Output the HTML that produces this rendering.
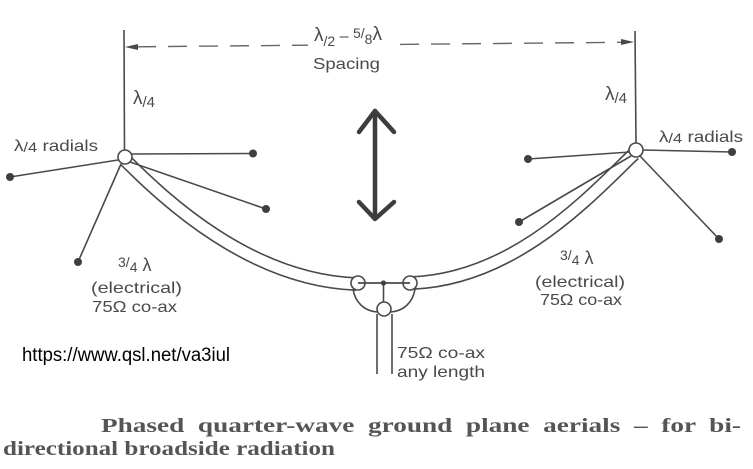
<!DOCTYPE html>
<html>
<head>
<meta charset="utf-8">
<style>
  html,body{margin:0;padding:0;background:#fff;}
  svg{display:block;}
  .lbl{font-family:"Liberation Sans",sans-serif;fill:#4a4a4a;}
</style>
</head>
<body>
<svg width="753" height="469" viewBox="0 0 753 469" xmlns="http://www.w3.org/2000/svg">
  <rect width="753" height="469" fill="#fff"/>

  <!-- masts -->
  <line x1="124" y1="30" x2="124.5" y2="150" stroke="#4a4a4a" stroke-width="1.6"/>
  <line x1="635" y1="31" x2="636" y2="143" stroke="#4a4a4a" stroke-width="1.6"/>

  <!-- dashed spacing line -->
  <line x1="137" y1="46.8" x2="308" y2="45.2" stroke="#666" stroke-width="1.4" stroke-dasharray="19 12"/>
  <line x1="400" y1="44.4" x2="622" y2="42.3" stroke="#666" stroke-width="1.4" stroke-dasharray="19 12"/>
  <polygon points="125,47 138,44 138,50" fill="#4a4a4a"/>
  <polygon points="634,42 621,39 621,45" fill="#4a4a4a"/>

  <!-- spacing label -->
  <text class="lbl" x="314" y="41" font-size="19">λ<tspan font-size="14" dy="5">/2</tspan><tspan dy="-5" font-size="16"> – </tspan><tspan font-size="14" dy="-3">5</tspan><tspan font-size="14">/</tspan><tspan font-size="14" dy="6">8</tspan><tspan dy="-4" font-size="19">λ</tspan></text>
  <text class="lbl" x="313" y="69" font-size="16" textLength="67" lengthAdjust="spacingAndGlyphs">Spacing</text>

  <!-- lambda/4 labels -->
  <text class="lbl" x="133" y="104" font-size="19">λ<tspan font-size="15" dy="3">/4</tspan></text>
  <text class="lbl" x="605" y="100" font-size="19">λ<tspan font-size="15" dy="3">/4</tspan></text>

  <text class="lbl" x="14" y="151" font-size="16" textLength="84" lengthAdjust="spacingAndGlyphs">λ<tspan font-size="14" dy="1">/4</tspan><tspan dy="-1"> radials</tspan></text>
  <text class="lbl" x="659" y="142" font-size="16" textLength="84" lengthAdjust="spacingAndGlyphs">λ<tspan font-size="14" dy="1">/4</tspan><tspan dy="-1"> radials</tspan></text>

  <!-- coax tubes -->
  <g fill="none">
    <path d="M125,160 C165,200 250,280 356,284" stroke="#4a4a4a" stroke-width="14"/>
    <path d="M125,160 C165,200 250,280 356,284" stroke="#fff" stroke-width="10.8"/>
    <path d="M634,154 C592,194 516,279 412,283" stroke="#4a4a4a" stroke-width="14"/>
    <path d="M634,154 C592,194 516,279 412,283" stroke="#fff" stroke-width="10.8"/>
  </g>

  <!-- radials -->
  <g stroke="#4a4a4a" stroke-width="1.6">
    <line x1="118" y1="160" x2="10" y2="177"/>
    <line x1="131" y1="154" x2="253" y2="153.5"/>
    <line x1="130" y1="162" x2="266" y2="209"/>
    <line x1="121" y1="164" x2="78" y2="262"/>
    <line x1="630" y1="152" x2="528" y2="159"/>
    <line x1="642" y1="150" x2="732" y2="152"/>
    <line x1="631" y1="156" x2="519" y2="222"/>
    <line x1="640" y1="156" x2="719" y2="239"/>
  </g>
  <g fill="#3f3f3f">
    <circle cx="10" cy="177" r="4"/>
    <circle cx="253" cy="153.5" r="4"/>
    <circle cx="266" cy="209" r="4"/>
    <circle cx="78" cy="262" r="4"/>
    <circle cx="528" cy="159" r="4"/>
    <circle cx="732" cy="152" r="4"/>
    <circle cx="519" cy="222" r="4"/>
    <circle cx="719" cy="239" r="4"/>
  </g>

  <!-- feed circles at masts -->
  <circle cx="125" cy="157" r="7" fill="#fff" stroke="#4a4a4a" stroke-width="1.6"/>
  <circle cx="636" cy="150" r="7" fill="#fff" stroke="#4a4a4a" stroke-width="1.6"/>

  <!-- central junction -->
  <g fill="none" stroke="#4a4a4a" stroke-width="1.6">
    <path d="M353,289 C355,302 364,311 377,312"/>
    <path d="M415,289 C413,302 404,311 391,312"/>
    <line x1="377" y1="314" x2="377" y2="374"/>
    <line x1="392" y1="314" x2="392" y2="374"/>
  </g>
  <circle cx="358" cy="283" r="7" fill="#fff" stroke="#4a4a4a" stroke-width="1.6"/>
  <circle cx="410" cy="283" r="7" fill="#fff" stroke="#4a4a4a" stroke-width="1.6"/>
  <circle cx="384" cy="309" r="7" fill="#fff" stroke="#4a4a4a" stroke-width="1.6"/>
  <line x1="358" y1="283" x2="410" y2="283" stroke="#4a4a4a" stroke-width="1.8"/>
  <line x1="383.5" y1="283" x2="383.5" y2="302" stroke="#4a4a4a" stroke-width="1.6"/>
  <circle cx="383.5" cy="283" r="2.6" fill="#3f3f3f"/>

  <!-- central double arrow -->
  <g stroke="#3d3d3d" stroke-width="4.5" fill="none" stroke-linecap="round" stroke-linejoin="round">
    <line x1="375" y1="111" x2="375" y2="218"/>
    <polyline points="359,132 375,111 394,132"/>
    <polyline points="359,202 375,219 394,202"/>
  </g>

  <!-- coax labels left -->
  <text class="lbl" x="118" y="271" font-size="18"><tspan font-size="14" dy="-4">3</tspan><tspan font-size="14">/</tspan><tspan font-size="14" dy="5">4</tspan><tspan dy="-1"> λ</tspan></text>
  <text class="lbl" x="91" y="293" font-size="16" textLength="91" lengthAdjust="spacingAndGlyphs">(electrical)</text>
  <text class="lbl" x="92" y="312" font-size="16" textLength="85" lengthAdjust="spacingAndGlyphs">75Ω co-ax</text>

  <!-- coax labels right -->
  <text class="lbl" x="560" y="264" font-size="18"><tspan font-size="14" dy="-4">3</tspan><tspan font-size="14">/</tspan><tspan font-size="14" dy="5">4</tspan><tspan dy="-1"> λ</tspan></text>
  <text class="lbl" x="535" y="287" font-size="16" textLength="90" lengthAdjust="spacingAndGlyphs">(electrical)</text>
  <text class="lbl" x="540" y="305" font-size="16" textLength="82" lengthAdjust="spacingAndGlyphs">75Ω co-ax</text>

  <!-- feed coax label -->
  <text class="lbl" x="397" y="358" font-size="16" textLength="88" lengthAdjust="spacingAndGlyphs">75Ω co-ax</text>
  <text class="lbl" x="397" y="377" font-size="16" textLength="88" lengthAdjust="spacingAndGlyphs">any length</text>

  <!-- url -->
  <text x="22" y="361" font-family="Liberation Sans, sans-serif" font-size="19" fill="#000" textLength="208" lengthAdjust="spacingAndGlyphs">https://www.qsl.net/va3iul</text>

  <!-- caption -->
  <text x="101" y="432" font-family="Liberation Serif, serif" font-weight="bold" font-size="20" fill="#555" textLength="640" lengthAdjust="spacingAndGlyphs" xml:space="preserve">Phased  quarter-wave  ground  plane  aerials  –  for  bi-</text>
  <text x="3" y="455" font-family="Liberation Serif, serif" font-weight="bold" font-size="20" fill="#555" textLength="332" lengthAdjust="spacingAndGlyphs">directional broadside radiation</text>
</svg>
</body>
</html>
